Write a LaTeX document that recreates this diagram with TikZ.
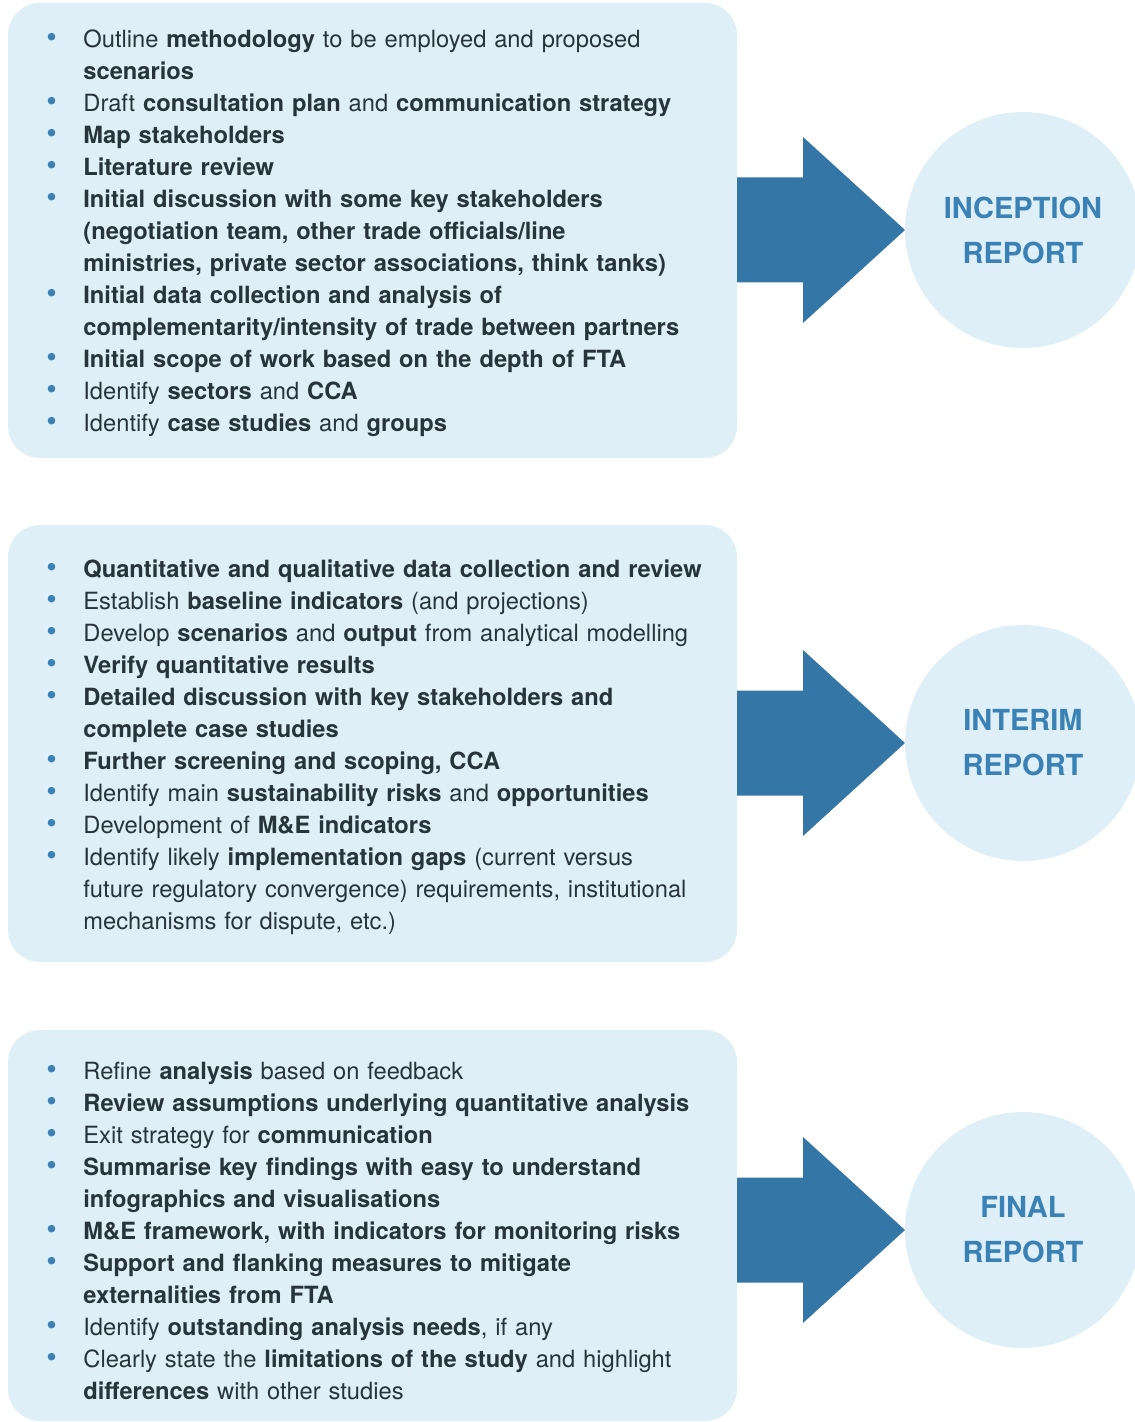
\documentclass[tikz,border=0pt]{standalone}
\usepackage{fontspec}
\setmainfont{TeX Gyre Heros}
\usetikzlibrary{positioning}
\definecolor{boxblue}{HTML}{DFEFF7}
\definecolor{arrowblue}{HTML}{3476A6}
\definecolor{labelblue}{HTML}{3A82B5}
\definecolor{bodytext}{HTML}{27343C}
% one bullet item, text hangs after the dot
\newcommand\itm{\par\noindent\hangindent=18.5pt\hangafter=1\strut\makebox[18.5pt][l]{\textcolor{labelblue}{\fontsize{15}{16}\selectfont\textbullet}}}

\tikzset{
  phasebox/.style={fill=boxblue, rounded corners=16pt},
  itemlist/.style={anchor=north west, inner sep=0pt, text width=345pt, align=left,
    text=bodytext, font=\fontsize{11.85}{16}\selectfont},
  reportcircle/.style={circle, fill=boxblue, minimum size=118pt, inner sep=0pt,
    align=center, text=labelblue, font=\fontsize{14.5}{22.5}\selectfont\bfseries},
}

\begin{document}
\begin{tikzpicture}[x=0.5pt,y=-0.5pt]
  \useasboundingbox (0,0) rectangle (1134,1422);

  % phase boxes
  \fill[phasebox] (8,3) rectangle (737,458);
  \fill[phasebox] (8,525) rectangle (737,962);
  \fill[phasebox] (8,1030) rectangle (737,1421);

  % arrows and report circles
  \foreach \yc/\nm/\lbl in {230/inception/INCEPTION, 743/interim/INTERIM, 1230/final/FINAL}{
    \fill[arrowblue] (737,\yc-52.5) -- (803,\yc-52.5) -- (803,\yc-93) -- (905,\yc)
      -- (803,\yc+93) -- (803,\yc+52.5) -- (737,\yc+52.5) -- cycle;
    \node[reportcircle] (\nm) at (1023,\yc) {\lbl\\REPORT};
  }

  \node[itemlist] (incList) at (46,15.5) {%
    \itm Outline \textbf{methodology} to be employed and proposed\newline\textbf{scenarios}
    \itm Draft \textbf{consultation plan} and \textbf{communication strategy}
    \itm \textbf{Map stakeholders}
    \itm \textbf{Literature review}
    \itm \textbf{Initial discussion with some key stakeholders\newline(negotiation team, other trade officials/line\newline ministries, private sector associations, think tanks)}
    \itm \textbf{Initial data collection and analysis of\newline complementarity/intensity of trade between partners}
    \itm \textbf{Initial scope of work based on the depth of FTA}
    \itm Identify \textbf{sectors} and \textbf{CCA}
    \itm Identify \textbf{case studies} and \textbf{groups}\par};

  \node[itemlist] (intList) at (46,545.5) {%
    \itm \textbf{Quantitative and qualitative data collection and review}
    \itm Establish \textbf{baseline indicators} (and projections)
    \itm Develop \textbf{scenarios} and \textbf{output} from analytical modelling
    \itm \textbf{Verify quantitative results}
    \itm \textbf{Detailed discussion with key stakeholders and\newline complete case studies}
    \itm \textbf{Further screening and scoping, CCA}
    \itm Identify main \textbf{sustainability risks} and \textbf{opportunities}
    \itm Development of \textbf{M\&E indicators}
    \itm Identify likely \textbf{implementation gaps} (current versus\newline future regulatory convergence) requirements, institutional\newline mechanisms for dispute, etc.)\par};

  \node[itemlist] (finList) at (46,1047.5) {%
    \itm Refine \textbf{analysis} based on feedback
    \itm \textbf{Review assumptions underlying quantitative analysis}
    \itm Exit strategy for \textbf{communication}
    \itm \textbf{Summarise key findings with easy to understand\newline infographics and visualisations}
    \itm \textbf{M\&E framework, with indicators for monitoring risks}
    \itm \textbf{Support and flanking measures to mitigate\newline externalities from FTA}
    \itm Identify \textbf{outstanding analysis needs}, if any
    \itm Clearly state the \textbf{limitations of the study} and highlight\newline\textbf{differences} with other studies\par};
\end{tikzpicture}
\end{document}
